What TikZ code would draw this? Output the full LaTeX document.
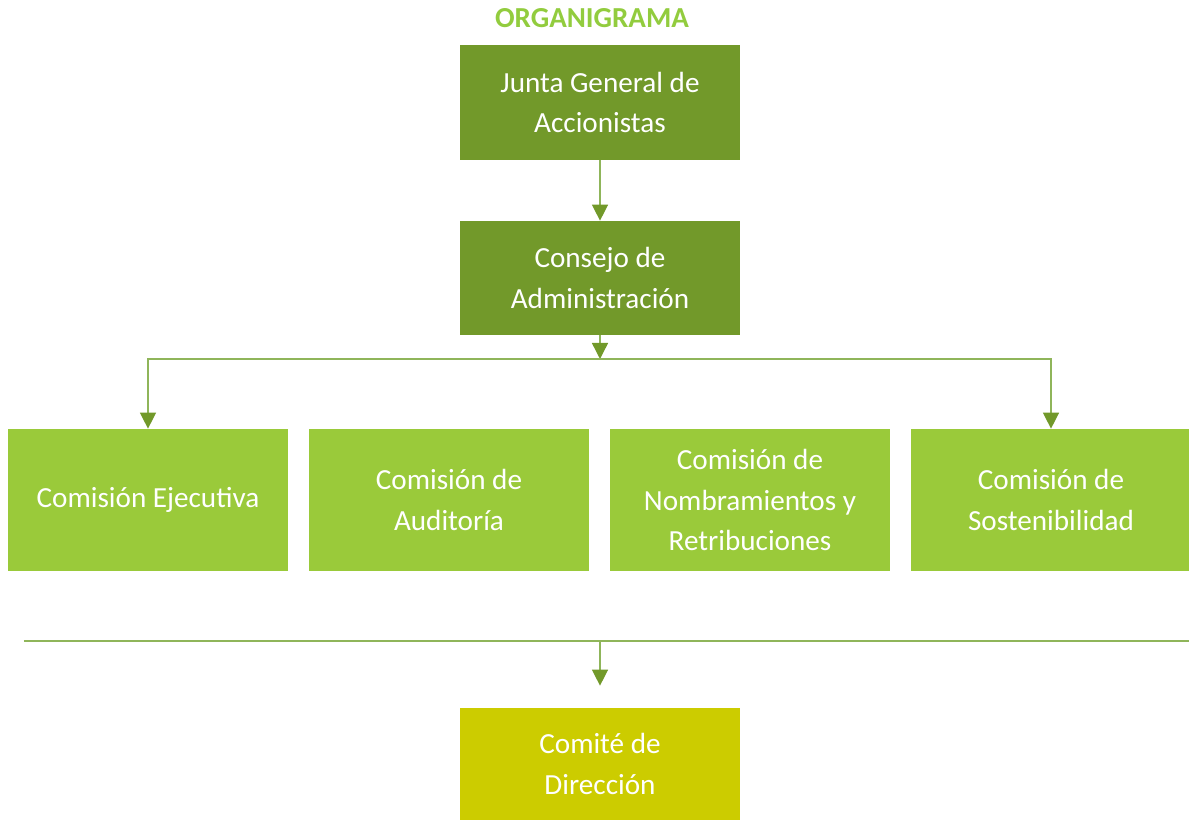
\documentclass[tikz,border=0pt]{standalone}
\usepackage{fontspec}
\setmainfont{Carlito}
\usepackage{tikz}
\usetikzlibrary{positioning, arrows.meta}

\definecolor{olivebox}{HTML}{72992A}
\definecolor{limebox}{HTML}{9ACA3A}
\definecolor{yellowbox}{HTML}{CCCC00}
\definecolor{linkline}{HTML}{8FB55A}
\definecolor{titlegreen}{HTML}{92CC3E}

\begin{document}
\begin{tikzpicture}[
        >={Triangle[length=0.32cm, width=0.32cm, color=olivebox, fill=olivebox]},
        node distance=6.02cm,
        on grid,
        every node/.style={font=\fontsize{16.6}{22.8}\selectfont},
        box/.style={rectangle, text=white, align=center, inner sep=0pt,
            minimum width=5.6cm},
        board/.style={box, fill=olivebox, minimum height=2.3cm},
        commission/.style={box, fill=limebox, minimum height=2.84cm},
        committee/.style={box, fill=yellowbox, minimum height=2.24cm},
        link/.style={draw=linkline, line width=0.8pt}
    ]
        \useasboundingbox (0,0) rectangle (23.78,-16.4);
        \node[font=\fontsize{16.5}{20}\selectfont\bfseries, text=titlegreen] (title) at (11.84,-0.36) {ORGANIGRAMA};

        \node[board] (junta) at (12,-2.05) {Junta General de\\Accionistas};
        \node[board, minimum height=2.28cm, below=3.51cm of junta] (consejo) {Consejo de\\Administración};

        \node[commission] (ejecutiva) at (2.96,-10) {Comisión Ejecutiva};
        \node[commission, right=of ejecutiva] (auditoria) {Comisión de\\Auditoría};
        \node[commission, right=of auditoria] (nombramientos) {Comisión de\\Nombramientos y\\Retribuciones};
        \node[commission, right=of nombramientos] (sostenibilidad) {Comisión de\\Sostenibilidad};

        \node[committee] (comite) at (12,-15.28) {Comité de\\Dirección};

        \coordinate (bus) at (12,-7.18);
        \coordinate (lineL) at (0.48,-12.82);
        \coordinate (lineR) at (23.78,-12.82);
        \coordinate (busB) at (12,-12.82);

        \path[link, ->]
        (junta) edge (consejo)
        (consejo) edge (bus);
        \draw[link, ->] (bus) -| (ejecutiva);
        \draw[link, ->] (bus) -| (sostenibilidad);
        \draw[link] (lineL) -- (lineR);
        \draw[link, ->, shorten >=0.44cm] (busB) -- (comite);
\end{tikzpicture}
\end{document}
